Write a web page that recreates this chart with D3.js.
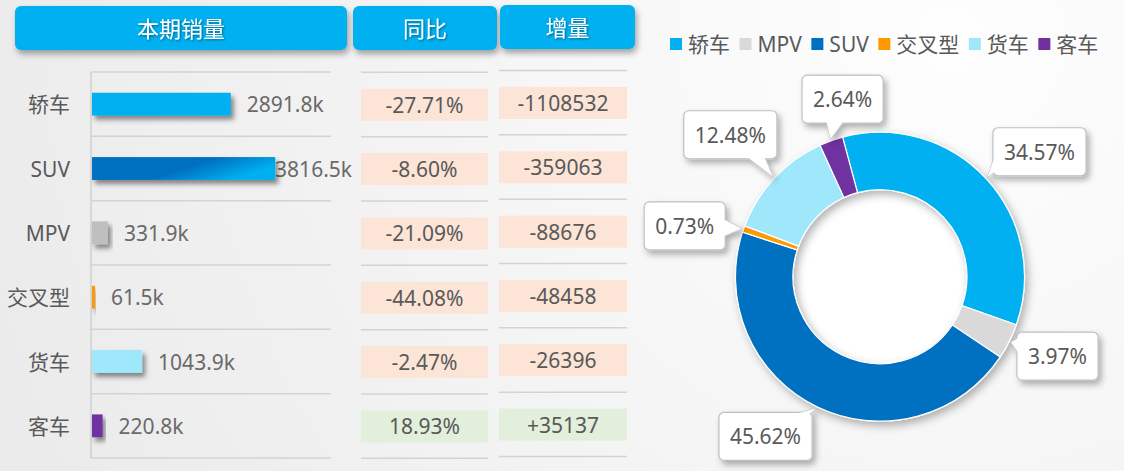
<!DOCTYPE html>
<html><head><meta charset="utf-8">
<script src="https://cdn.jsdelivr.net/npm/d3@7"></script>
<style>
html,body{margin:0;padding:0;background:#f2f2f2;}
svg{display:block;font-family:"Noto Sans","Noto Sans CJK SC",sans-serif;}
</style>
</head><body>
<svg id="c" width="1124" height="471"></svg>
<script>
// ---------------- data ----------------
const categories = ['轿车', 'SUV', 'MPV', '交叉型', '货车', '客车'];
const salesK = [2891.8, 3816.5, 331.9, 61.5, 1043.9, 220.8];
const yoyPct = [-27.71, -8.60, -21.09, -44.08, -2.47, 18.93];
const increments = [-1108532, -359063, -88676, -48458, -26396, 35137];
const headers = ['本期销量', '同比', '增量'];
const pieCategories = ['轿车', 'MPV', 'SUV', '交叉型', '货车', '客车'];
const pieShares = [34.57, 3.97, 45.62, 0.73, 12.48, 2.64];

// ---------------- styles / layout ----------------
const sliceColors = {'轿车':'#00B0F0','MPV':'#D9D9D9','SUV':'#0070C0','交叉型':'#FF9900','货车':'#9FE7FB','客车':'#7030A0'};
const barFill = {'轿车':'#00B0F0','SUV':'url(#suvGrad)','MPV':'#BFBFBF','交叉型':'#FF9900','货车':'#9FE7FB','客车':'#7030A0'};
const textColor = '#595959';
const FS = 21;
const hy = s => s.replace(/\u2212/g, '-');
// label nudges for callouts (deg offset from slice mid-angle, radius)
const calloutNudge = {'轿车':[4.7,202.6],'MPV':[-2.5,194.4],'SUV':[9.8,196.5],'交叉型':[-4.7,201.8],'货车':[0.45,206.3],'客车':[7.85,181.4]};

const svg = d3.select('#c');
const defs = svg.append('defs');

// background
const bg = defs.append('radialGradient').attr('id','bgGrad').attr('gradientUnits','userSpaceOnUse')
  .attr('cx',950).attr('cy',40).attr('r',1000);
bg.append('stop').attr('offset',0).attr('stop-color','#FEFEFE');
bg.append('stop').attr('offset',1).attr('stop-color','#EBEBEB');
svg.append('rect').attr('width',1124).attr('height',471).attr('fill','url(#bgGrad)');

// gradients & filters
const sg = defs.append('linearGradient').attr('id','suvGrad').attr('x1','0').attr('y1','0.3').attr('x2','1').attr('y2','0.7');
[[0,'#0070C0'],[0.5,'#0070C0'],[0.9,'#00B0F0'],[1,'#00B0F0']].forEach(s=>sg.append('stop').attr('offset',s[0]).attr('stop-color',s[1]));

function shadow(id, dx, dy, sd, op){
  const f = defs.append('filter').attr('id',id).attr('x','-30%').attr('y','-30%').attr('width','160%').attr('height','180%');
  f.append('feDropShadow').attr('dx',dx).attr('dy',dy).attr('stdDeviation',sd).attr('flood-color','#000').attr('flood-opacity',op);
}
shadow('barShadow',3,4,2.5,0.45);
shadow('hdrShadow',2,4,3,0.35);
shadow('txtShadow',1,1,0.8,0.45);
shadow('boxShadow',3,4,3,0.3);
shadow('donutShadow',3,4,4,0.3);

// ---------------- header boxes ----------------
const headerBoxes = [[15,347,6,50],[353,497,6,50],[500,635,5,49]];
const hg = svg.append('g');
headers.forEach((h,i)=>{
  const [x0,x1,y0,y1] = headerBoxes[i];
  hg.append('rect').attr('x',x0).attr('y',y0).attr('width',x1-x0).attr('height',y1-y0)
    .attr('rx',6).attr('fill','#00B0F0').attr('filter','url(#hdrShadow)');
  hg.append('text').attr('x',(x0+x1)/2).attr('y',(y0+y1)/2).attr('text-anchor','middle')
    .attr('dominant-baseline','central').attr('fill','#fff').attr('font-size',FS+1)
    .attr('filter','url(#txtShadow)').text(h);
});

// ---------------- bar section ----------------
const y = d3.scaleBand().domain(categories).range([72, 458]).padding(0);
const x = d3.scaleLinear().domain([0, 5000]).range([92, 332]);
const barH = y.bandwidth()*0.355;

const grid = svg.append('g').attr('stroke','#D3D3D3').attr('stroke-width',1.5);
const cols = [{x0:91,x1:331,dy:0},{x0:361,x1:488,dy:0.3},{x0:499,x1:627,dy:-1.5}];
cols.forEach(c=>{
  const ys = categories.map(cat=>y(cat)).concat([y.range()[1]]);
  ys.forEach(v=>grid.append('line').attr('x1',c.x0).attr('x2',c.x1).attr('y1',v+c.dy).attr('y2',v+c.dy));
});
// axis line
svg.append('line').attr('x1',91).attr('x2',91).attr('y1',y.range()[0]).attr('y2',y.range()[1])
  .attr('stroke','#D0D0D0').attr('stroke-width',1.5);

const bars = svg.append('g');
categories.forEach((cat,i)=>{
  const cy = y(cat)+y.bandwidth()/2;
  bars.append('rect').attr('x',x(0)).attr('y',cy-barH/2).attr('width',x(salesK[i])-x(0)).attr('height',barH)
    .attr('fill',barFill[cat]).attr('filter','url(#barShadow)');
  svg.append('text').attr('x',70).attr('y',cy).attr('text-anchor','end').attr('dominant-baseline','central')
    .attr('fill',textColor).attr('font-size',FS).text(cat);
});
categories.forEach((cat,i)=>{
  const cy = y(cat)+y.bandwidth()/2;
  const t = svg.append('text').attr('y',cy).attr('dominant-baseline','central')
    .attr('fill','#6A6A6A').attr('font-size',FS).text(d3.format('.1f')(salesK[i])+'k');
  const w = t.node().getComputedTextLength();
  let tx = x(salesK[i]) + 16;
  if (tx + w > 352) tx = 352 - w;
  t.attr('x',tx);
});
bars.raise();

// ---------------- table cells ----------------
const cellH = 32;
categories.forEach((cat,i)=>{
  const cy = y(cat)+y.bandwidth()/2;
  const vals = [[yoyPct[i], hy(d3.format('.2f')(yoyPct[i]))+'%'],[increments[i], hy(d3.format('+d')(increments[i]))]];
  vals.forEach((v,j)=>{
    const c = cols[j+1];
    const yc = cy + c.dy + 0.3;
    svg.append('rect').attr('x',c.x0).attr('y',yc-cellH/2).attr('width',c.x1-c.x0).attr('height',cellH)
      .attr('fill', v[0] < 0 ? '#FCE4D6' : '#E2EFDA');
    svg.append('text').attr('x',(c.x0+c.x1)/2).attr('y',yc).attr('text-anchor','middle')
      .attr('dominant-baseline','central').attr('fill',textColor).attr('font-size',FS).text(v[1]);
  });
});

// ---------------- legend ----------------
const lg = svg.append('g');
let lx = 670;
pieCategories.forEach(cat=>{
  lg.append('rect').attr('x',lx).attr('y',38).attr('width',12).attr('height',12).attr('fill',sliceColors[cat]);
  const t = lg.append('text').attr('x',lx+18).attr('y',44).attr('dominant-baseline','central')
    .attr('fill',textColor).attr('font-size',FS).text(cat);
  lx += 18 + t.node().getComputedTextLength() + 9.5;
});

// ---------------- donut ----------------
const cx = 880, cyD = 276.7, R = 144.5, r0 = 87;
const pie = d3.pie().sort(null).value(d=>d.v)
  .startAngle(-15*Math.PI/180).endAngle(345*Math.PI/180);
const arcs = pie(pieCategories.map((c,i)=>({c, v:pieShares[i]})));
const arc = d3.arc().innerRadius(r0).outerRadius(R);
const dg = svg.append('g').attr('transform',`translate(${cx},${cyD})`);
dg.append('circle').attr('r',r0).attr('fill','#FFFFFF');
const ring = dg.append('g').attr('filter','url(#donutShadow)');
ring.selectAll('path').data(arcs).join('path').attr('d',arc)
  .attr('fill',d=>sliceColors[d.data.c]).attr('stroke','#fff').attr('stroke-width',1.2);

// callouts
const cg = dg.append('g');
arcs.forEach(d=>{
  const mid = (d.startAngle+d.endAngle)/2;
  const [da, rr] = calloutNudge[d.data.c];
  const a = mid + da*Math.PI/180;
  const bx = rr*Math.sin(a), by = -rr*Math.cos(a);
  const tipR = R + 2;
  const tx = tipR*Math.sin(mid), ty = -tipR*Math.cos(mid);
  const g = cg.append('g');
  const label = d3.format('.2f')(d.data.v)+'%';
  const tmp = g.append('text').attr('font-size',FS).text(label);
  const w = tmp.node().getComputedTextLength() + 22, h = 48;
  tmp.remove();
  const x0 = bx - w/2, y0 = by - h/2;
  const vx = tx - bx, vy = ty - by;
  const sx = Math.abs(vx) > 1e-6 ? (w/2)/Math.abs(vx) : Infinity;
  const sy = Math.abs(vy) > 1e-6 ? (h/2)/Math.abs(vy) : Infinity;
  let b1, b2;
  const hw = 9;
  if (sy < sx) {
    const ex = Math.max(x0+hw+5, Math.min(x0+w-hw-5, bx + vx*sy));
    const ey = by + vy*sy;
    b1 = [ex-hw, ey - Math.sign(vy)*3]; b2 = [ex+hw, ey - Math.sign(vy)*3];
  } else {
    const ey = Math.max(y0+hw+5, Math.min(y0+h-hw-5, by + vy*sx));
    const ex = bx + vx*sx;
    b1 = [ex - Math.sign(vx)*3, ey-hw]; b2 = [ex - Math.sign(vx)*3, ey+hw];
  }
  const tri = 'M'+b1+'L'+tx+','+ty+'L'+b2+'Z';
  const sh = g.append('g').attr('filter','url(#boxShadow)');
  sh.append('path').attr('d',tri).attr('fill','#fff').attr('stroke','#BFBFBF').attr('stroke-width',1.2);
  sh.append('rect').attr('x',x0).attr('y',y0).attr('width',w).attr('height',h).attr('rx',5)
    .attr('fill','#fff').attr('stroke','#BFBFBF').attr('stroke-width',1.2);
  g.append('path').attr('d',tri).attr('fill','#fff');
  g.append('text').attr('x',bx).attr('y',by).attr('text-anchor','middle').attr('dominant-baseline','central')
    .attr('fill',textColor).attr('font-size',FS).text(label);
});
</script>
</body></html>
